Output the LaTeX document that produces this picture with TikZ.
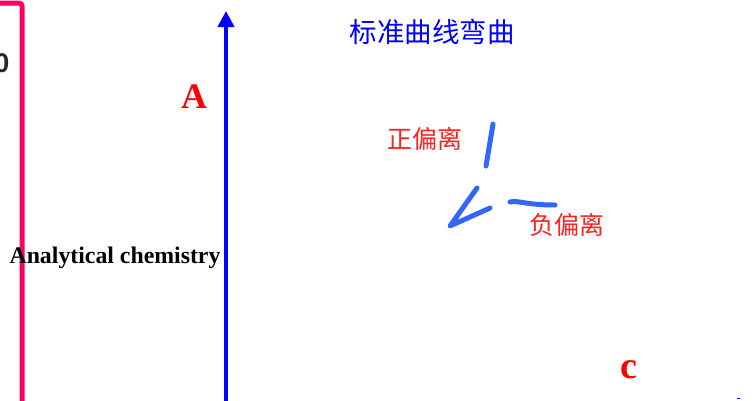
\documentclass[tikz,border=0pt]{standalone}
\usepackage{fontspec}
\setmainfont{Liberation Serif}
\newfontfamily\cjk{Noto Sans CJK SC}
\newfontfamily\arialfont{Liberation Sans}
\usetikzlibrary{arrows.meta}
\definecolor{pinkline}{HTML}{FF0066}
\definecolor{axisblue}{HTML}{0000FF}
\definecolor{strokeblue}{HTML}{3366FF}
\definecolor{labelred}{HTML}{FF2020}
\begin{document}
\begin{tikzpicture}[x=1pt,y=-1pt,
  cjklabel/.style={inner sep=0pt, font=\cjk\fontsize{25}{28}\selectfont, text=labelred},
  bigletter/.style={inner sep=0pt, font=\bfseries\fontsize{36}{40}\selectfont, text=red},
  handstroke/.style={draw=strokeblue, line width=5pt, line cap=round, line join=round}]
\useasboundingbox (0,0) rectangle (754,400);
\fill[white] (0,0) rectangle (754,400);
% pink frame line
\coordinate (p0) at (0,3);
\coordinate (p1) at (22,3);
\coordinate (p2) at (22,402);
\draw[pinkline, line width=5pt, rounded corners=3pt] (p0) -- (p1) -- (p2);
% partial zero
\node[inner sep=0pt, anchor=east, text=black!85, font=\arialfont\bfseries\fontsize{27}{30}\selectfont] (zero) at (9.5,63) {0};
% blue axis
\coordinate (ax0) at (226,402);
\coordinate (ax1) at (226,11);
\draw[axisblue, line width=4pt, -{Triangle[length=16pt,width=16pt]}] (ax0) -- (ax1);
% tiny blue mark bottom right
\coordinate (m0) at (736.5,398.5);
\coordinate (m1) at (739.5,398.5);
\draw[axisblue, line width=1.2pt] (m0) -- (m1);
% labels
\node[bigletter] (A) at (194,97) {A};
\node[bigletter, font=\bfseries\fontsize{38}{42}\selectfont] (c) at (629,370) {c};
\node[inner sep=0pt, font=\cjk\fontsize{27.5}{30}\selectfont, text=axisblue] (title) at (432,32) {标准曲线弯曲};
\node[cjklabel] (pos) at (425,139) {正偏离};
\node[cjklabel] (neg) at (567,225) {负偏离};
\node[inner sep=0pt, font=\bfseries\fontsize{23.8}{27}\selectfont] (chem) at (115,258) {Analytical chemistry};
% hand strokes
\coordinate (s1a) at (493,124);
\coordinate (s1b) at (486,166);
\draw[handstroke] (s1a) -- (s1b);
\coordinate (s2a) at (477,188);
\coordinate (s2b) at (450,226);
\coordinate (s2c) at (490,208);
\draw[handstroke] (s2a) -- (s2b) -- (s2c);
\coordinate (s3a) at (510,202);
\coordinate (s3b) at (555,205);
\draw[handstroke] (s3a) .. controls (518,200) and (525,205) .. (s3b);
\end{tikzpicture}
\end{document}
